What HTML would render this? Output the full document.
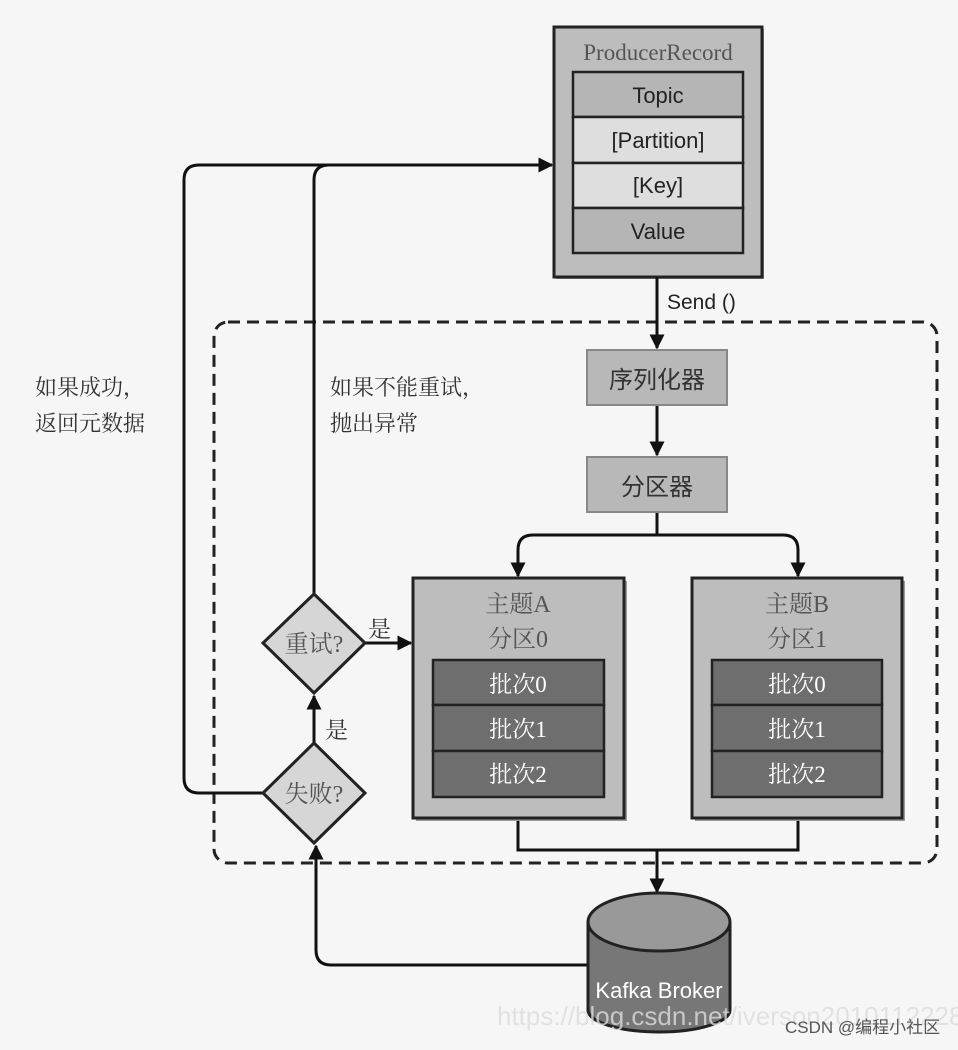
<!DOCTYPE html>
<html><head><meta charset="utf-8"><style>
body{margin:0;background:#f6f6f6;}
svg text{font-family:"Liberation Serif","Noto Serif CJK SC",serif;}
.s{font-family:"Liberation Sans","Noto Sans CJK SC",sans-serif;}
</style></head><body>
<svg width="958" height="1045" viewBox="0 0 958 1045" xmlns="http://www.w3.org/2000/svg">
<defs>
<marker id="a" viewBox="0 0 10 10" refX="9" refY="5" markerWidth="5" markerHeight="5" orient="auto"><path d="M0,0L10,5L0,10z" fill="#111"/></marker>
</defs>
<rect width="958" height="1045" fill="#f6f6f6"/>
<rect x="214" y="322" width="723" height="541" rx="14" fill="none" stroke="#222" stroke-width="3" stroke-dasharray="12,7"/>
<rect x="556" y="29" width="208" height="250" fill="#999"/>
<rect x="554" y="27" width="208" height="250" fill="#bdbdbd" stroke="#222" stroke-width="3"/>
<text x="658" y="60" font-size="23" text-anchor="middle" fill="#555">ProducerRecord</text>
<rect x="573" y="72" width="170" height="45" fill="#b5b5b5" stroke="#222" stroke-width="2.5"/>
<rect x="573" y="117" width="170" height="46" fill="#dedede" stroke="#222" stroke-width="2.5"/>
<rect x="573" y="163" width="170" height="45" fill="#dedede" stroke="#222" stroke-width="2.5"/>
<rect x="573" y="208" width="170" height="45" fill="#b5b5b5" stroke="#222" stroke-width="2.5"/>
<g class="s" font-size="22" text-anchor="middle" fill="#222">
<text x="658" y="103" class="s">Topic</text>
<text x="658" y="148" class="s">[Partition]</text>
<text x="658" y="193" class="s">[Key]</text>
<text x="658" y="239" class="s">Value</text>
<text x="667" y="309" class="s" text-anchor="start" font-size="21">Send ()</text>
</g>
<g stroke="#111" stroke-width="3" fill="none">
<line x1="657" y1="277" x2="657" y2="348" marker-end="url(#a)"/>
<line x1="657" y1="405" x2="657" y2="455" marker-end="url(#a)"/>
<path d="M657,512V535" />
<path d="M798,576V550Q798,535 783,535H533Q518,535 518,550V576" marker-end="url(#a)"/>
<path d="M798,550V576" marker-end="url(#a)"/>
<path d="M518,818V850H798V818"/>
<line x1="657" y1="850" x2="657" y2="892" marker-end="url(#a)"/>
<path d="M263,793H199Q184,793 184,778V180Q184,165 199,165H552" marker-end="url(#a)"/>
<path d="M314,594V180Q314,165 329,165"/>
<line x1="314" y1="743" x2="314" y2="696" marker-end="url(#a)"/>
<line x1="365" y1="643" x2="411" y2="643" marker-end="url(#a)"/>
<path d="M590,965H331Q316,965 316,950V846" marker-end="url(#a)"/>
</g>
<rect x="587" y="350" width="140" height="55" fill="#b8b8b8" stroke="#888" stroke-width="2"/>
<text x="657" y="388" font-size="24" text-anchor="middle" fill="#333" class="s">序列化器</text>
<rect x="587" y="457" width="140" height="55" fill="#b8b8b8" stroke="#888" stroke-width="2"/>
<text x="657" y="495" font-size="24" text-anchor="middle" fill="#333" class="s">分区器</text>
<g>
<rect x="416" y="581" width="211" height="240" fill="#999"/>
<rect x="413" y="578" width="211" height="240" fill="#bdbdbd" stroke="#222" stroke-width="3"/>
<text x="518" y="612" font-size="24" text-anchor="middle" fill="#555">主题A</text>
<text x="518" y="647" font-size="24" text-anchor="middle" fill="#555">分区0</text>
<rect x="433" y="660" width="171" height="45" fill="#6e6e6e" stroke="#222" stroke-width="2.5"/>
<rect x="433" y="705" width="171" height="46" fill="#6e6e6e" stroke="#222" stroke-width="2.5"/>
<rect x="433" y="751" width="171" height="46" fill="#6e6e6e" stroke="#222" stroke-width="2.5"/>
<text x="518" y="692" font-size="23" text-anchor="middle" fill="#fff">批次0</text>
<text x="518" y="737" font-size="23" text-anchor="middle" fill="#fff">批次1</text>
<text x="518" y="782" font-size="23" text-anchor="middle" fill="#fff">批次2</text>
</g>
<g>
<rect x="695" y="581" width="210" height="240" fill="#999"/>
<rect x="692" y="578" width="210" height="240" fill="#bdbdbd" stroke="#222" stroke-width="3"/>
<text x="797" y="612" font-size="24" text-anchor="middle" fill="#555">主题B</text>
<text x="797" y="647" font-size="24" text-anchor="middle" fill="#555">分区1</text>
<rect x="712" y="660" width="170" height="45" fill="#6e6e6e" stroke="#222" stroke-width="2.5"/>
<rect x="712" y="705" width="170" height="46" fill="#6e6e6e" stroke="#222" stroke-width="2.5"/>
<rect x="712" y="751" width="170" height="46" fill="#6e6e6e" stroke="#222" stroke-width="2.5"/>
<text x="797" y="692" font-size="23" text-anchor="middle" fill="#fff">批次0</text>
<text x="797" y="737" font-size="23" text-anchor="middle" fill="#fff">批次1</text>
<text x="797" y="782" font-size="23" text-anchor="middle" fill="#fff">批次2</text>
</g>
<path d="M314,594L365,643L314,693L263,643z" fill="#d6d6d6" stroke="#222" stroke-width="3"/>
<text x="314" y="652" font-size="24" text-anchor="middle" fill="#555">重试?</text>
<path d="M314,743L365,793L314,843L263,793z" fill="#d6d6d6" stroke="#222" stroke-width="3"/>
<text x="314" y="802" font-size="24" text-anchor="middle" fill="#555">失败?</text>
<text x="368" y="637" font-size="23" fill="#333">是</text>
<text x="325" y="738" font-size="23" fill="#333">是</text>
<text x="35" y="395" font-size="22" fill="#333">如果成功，</text>
<text x="35" y="431" font-size="22" fill="#333">返回元数据</text>
<text x="330" y="395" font-size="22" fill="#333">如果不能重试，</text>
<text x="330" y="431" font-size="22" fill="#333">抛出异常</text>
<path d="M588,922V1010A71,22 0 0 0 730,1010V922" fill="#777" stroke="#222" stroke-width="3"/>
<ellipse cx="659" cy="922" rx="71" ry="29" fill="#999" stroke="#222" stroke-width="3"/>
<text x="659" y="998" font-size="22" text-anchor="middle" fill="#fff" class="s">Kafka Broker</text>
<text x="497" y="1025" font-size="26" fill="#ddd" class="s" opacity="0.8">https://blog.csdn.net/iverson2010112228</text>
<text x="785" y="1033" font-size="17" fill="#555" class="s">CSDN @编程小社区</text>
</svg>
</body></html>
